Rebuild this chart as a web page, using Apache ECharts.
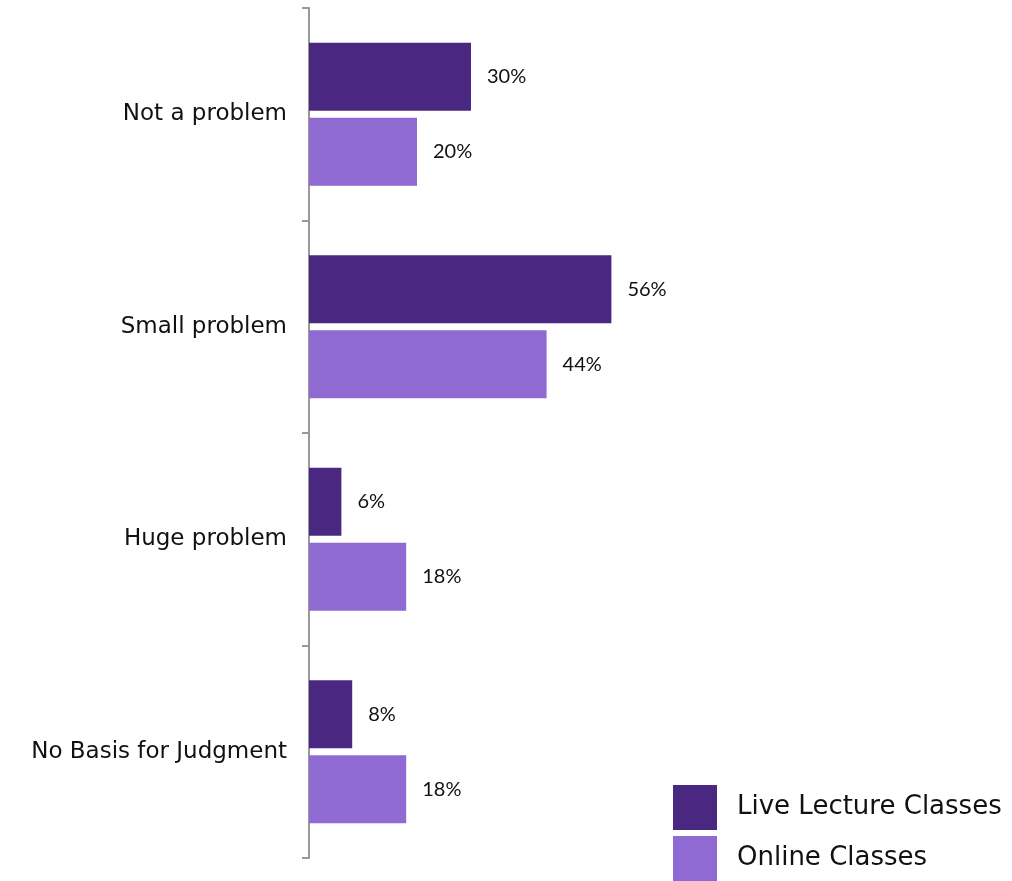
<!DOCTYPE html>
<html>
<head>
<meta charset="utf-8">
<script src="https://cdn.jsdelivr.net/npm/echarts@6/dist/echarts.min.js"></script>
<style>html,body{margin:0;padding:0;background:#fff;}#c{width:1012px;height:881px;}</style>
</head>
<body>
<div id="c"></div>
<script>
const categories = ["Not a problem", "Small problem", "Huge problem", "No Basis for Judgment"];
const liveLecture = [30, 56, 6, 8];
const online = [20, 44, 18, 18];
const seriesNames = ["Live Lecture Classes", "Online Classes"];

const chart = echarts.init(document.getElementById('c'));
const labelStyle = {
  show: true, position: 'right', distance: 16,
  formatter: p => p.value + '%',
  fontFamily: 'Lato, "Open Sans", sans-serif', fontSize: 20, color: '#111'
};
chart.setOption({
  animation: false,
  backgroundColor: '#fff',
  grid: { left: 309, top: 8, width: 540, bottom: 23 },
  legend: {
    orient: 'vertical', left: 673, top: 785, bottom: 0, itemWidth: 44, itemHeight: 45, itemGap: 6,
    padding: 0,
    icon: 'rect',
    textStyle: { fontSize: 26, color: '#111', fontFamily: '"DejaVu Sans", sans-serif', padding: [6, 0, 0, 15] },
    data: seriesNames
  },
  xAxis: { type: 'value', min: 0, max: 100, show: false },
  yAxis: {
    type: 'category', inverse: true, data: categories,
    axisLine: { show: true, lineStyle: { color: '#999', width: 2 } },
    axisTick: { show: true, length: 7, lineStyle: { color: '#999', width: 2 } },
    axisLabel: { fontSize: 23, color: '#111', margin: 22, fontFamily: '"DejaVu Sans", sans-serif' }
  },
  series: [
    { name: seriesNames[0], type: 'bar', data: liveLecture, barWidth: 68, barGap: '10%',
      itemStyle: { color: '#4A2882' }, label: labelStyle },
    { name: seriesNames[1], type: 'bar', data: online, barWidth: 68,
      itemStyle: { color: '#8F6AD3' }, label: labelStyle }
  ]
});
</script>
</body>
</html>
